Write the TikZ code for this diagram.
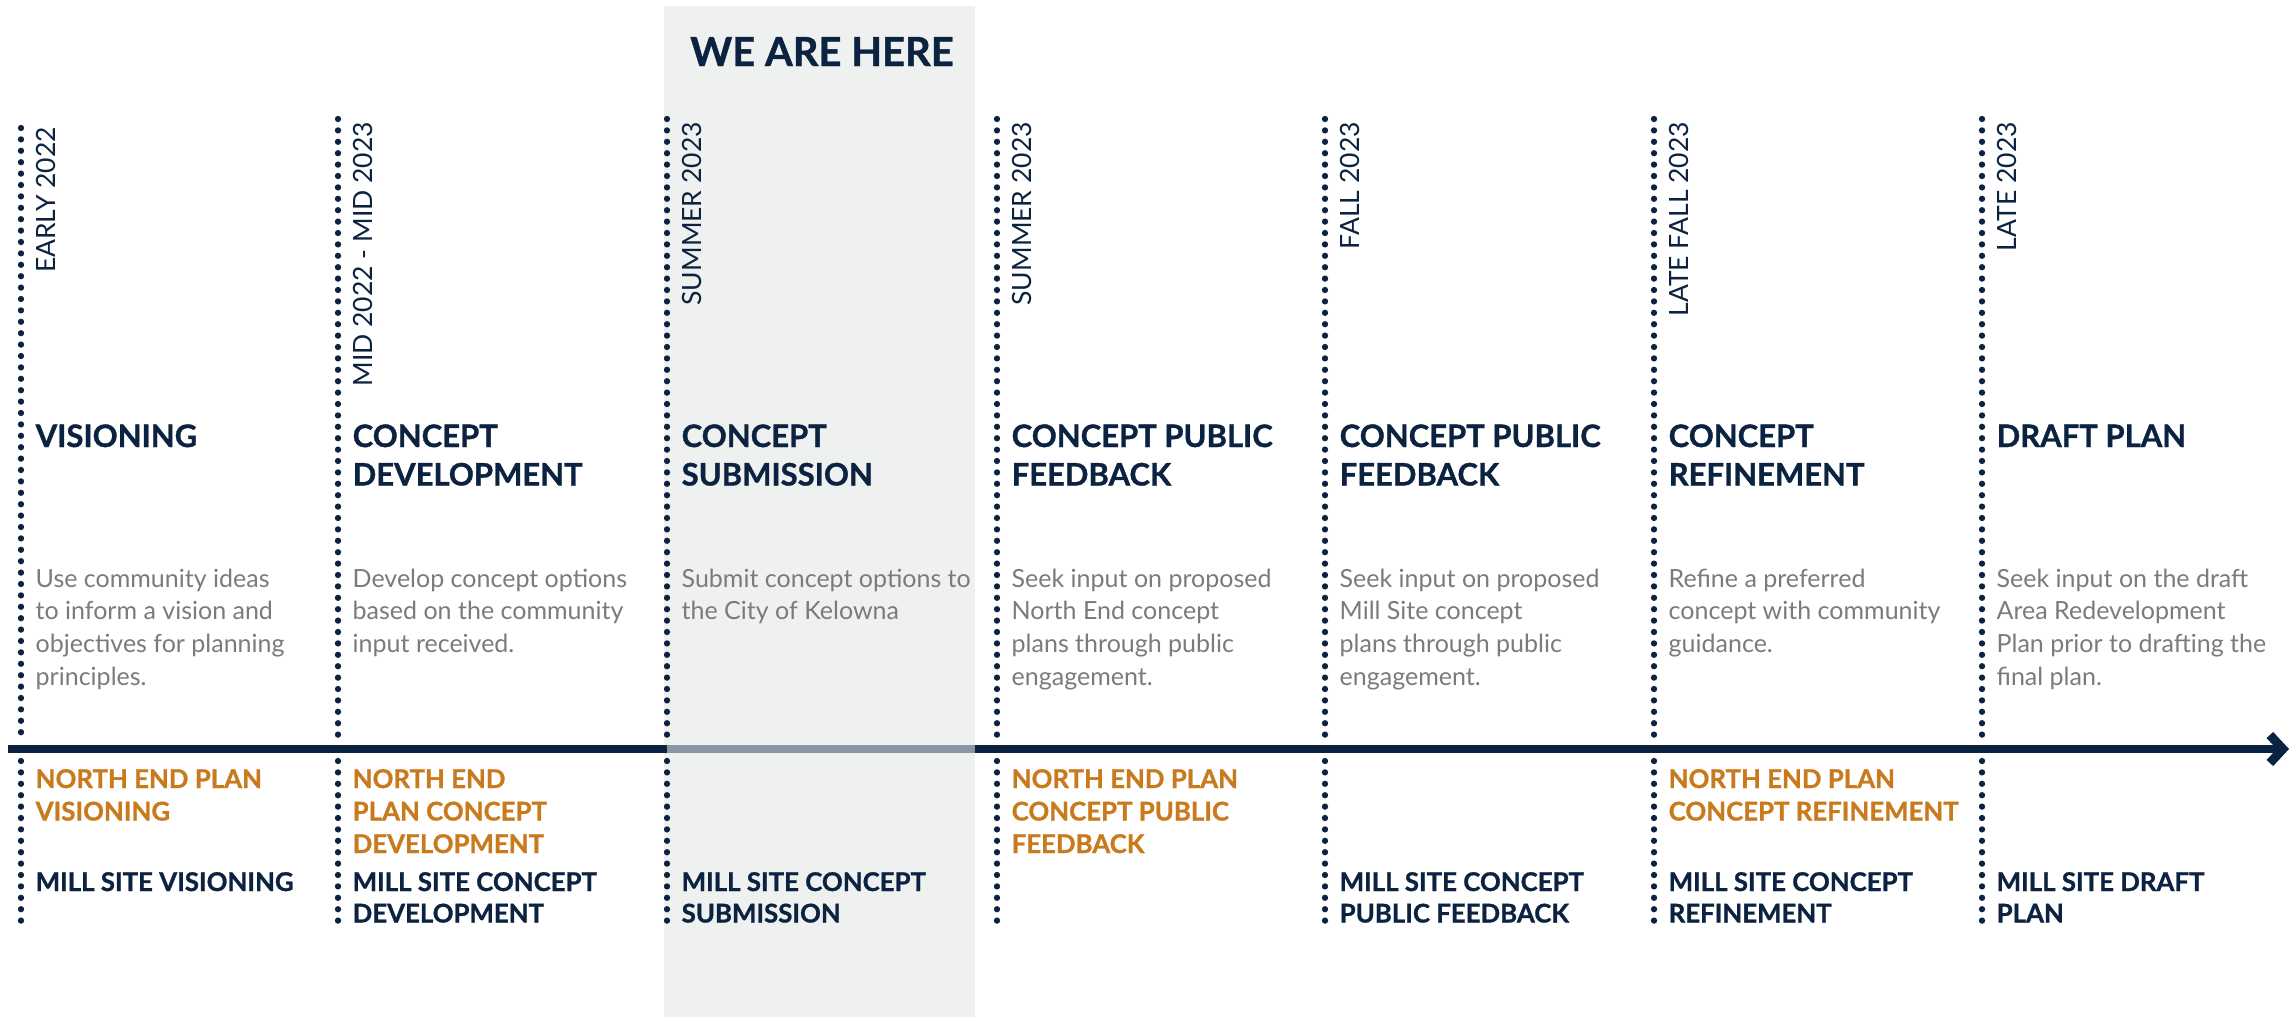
\documentclass[tikz,border=0pt]{standalone}
\usepackage{fontspec}
\setmainfont{Lato}[BoldFeatures={FakeBold=1.0}]
\usetikzlibrary{arrows.meta}
\definecolor{navy}{HTML}{0B2240}
\definecolor{orangelbl}{HTML}{C97A1D}
\definecolor{descgray}{HTML}{7B7B7B}
\definecolor{boxgray}{HTML}{EFF1F0}
\definecolor{axisgray}{HTML}{8C95A4}
\newcommand{\tlines}[1]{\vtop{\let\\\cr\halign{##\hfil\cr#1\crcr}}}
\begin{document}
\begin{tikzpicture}[x=1pt,y=-1pt,
  dots/.style={navy, line width=6.3pt, line cap=round, dash pattern=on 0pt off 11.4pt},
  datelbl/.style={rotate=90, anchor=base east, inner sep=0pt, text=navy,
    font=\fontsize{26.5}{30}\selectfont},
  headlbl/.style={anchor=base west, inner sep=0pt, text=navy,
    font=\bfseries\fontsize{31}{38.5}\selectfont},
  desclbl/.style={anchor=base west, inner sep=0pt, text=descgray,
    font=\fontsize{25}{32.7}\selectfont},
  northlbl/.style={anchor=base west, inner sep=0pt, text=orangelbl,
    font=\bfseries\fontsize{25.8}{32.5}\selectfont},
  milllbl/.style={anchor=base west, inner sep=0pt, text=navy,
    font=\bfseries\fontsize{25.8}{31.5}\selectfont},
  herelbl/.style={anchor=base, inner sep=0pt, text=navy,
    font=\bfseries\fontsize{40}{44}\selectfont}
]
\useasboundingbox (0,0) rectangle (2295,1017);
\fill[white] (0,0) rectangle (2295,1017);
% highlight box
\fill[boxgray] (664,6) rectangle (975,1017);
\node[herelbl] (here) at (822,66) {WE ARE HERE};

% dotted column lines
\foreach \i/\x/\t in {1/21/128,2/338/119,3/667/119,4/997/119,5/1325/119,6/1654/119,7/1982/119}{
  \coordinate (top\i) at (\x,\t);
  \coordinate (upb\i) at (\x,739);
  \coordinate (lot\i) at (\x,761);
  \coordinate (bot\i) at (\x,924);
  \draw[dots] (top\i) -- (upb\i);
  \draw[dots] (lot\i) -- (bot\i);
}

% axis
\coordinate (axL) at (8,749);
\coordinate (axR) at (2289,749);
\coordinate (gL) at (667,749);
\coordinate (gR) at (975,749);
\draw[navy, line width=8.5pt, -{Straight Barb[length=13pt,width=28pt,line width=9pt]}] (axL) -- (axR);
\draw[axisgray, line width=8.5pt] (gL) -- (gR);

% dates
\node[datelbl] (d1) at (55,127) {EARLY 2022};
\node[datelbl] (d2) at (372,122) {MID 2022 - MID 2023};
\node[datelbl] (d3) at (701,122) {SUMMER 2023};
\node[datelbl] (d4) at (1031,122) {SUMMER 2023};
\node[datelbl] (d5) at (1359,122) {FALL 2023};
\node[datelbl] (d6) at (1688,122) {LATE FALL 2023};
\node[datelbl] (d7) at (2016,122) {LATE 2023};

% headings
\node[headlbl] (h1) at (35.5,447) {\tlines{VISIONING}};
\node[headlbl] (h2) at (352.5,447) {\tlines{CONCEPT\\DEVELOPMENT}};
\node[headlbl] (h3) at (681.5,447) {\tlines{CONCEPT\\SUBMISSION}};
\node[headlbl] (h4) at (1011.5,447) {\tlines{CONCEPT PUBLIC\\FEEDBACK}};
\node[headlbl] (h5) at (1339.5,447) {\tlines{CONCEPT PUBLIC\\FEEDBACK}};
\node[headlbl] (h6) at (1668.5,447) {\tlines{CONCEPT\\REFINEMENT}};
\node[headlbl] (h7) at (1996.5,447) {\tlines{DRAFT PLAN}};

% descriptions
\node[desclbl] (t1) at (35.5,587) {\tlines{Use community ideas\\to inform a vision and\\objectives for planning\\principles.}};
\node[desclbl] (t2) at (352.5,587) {\tlines{Develop concept options\\based on the community\\input received.}};
\node[desclbl] (t3) at (681.5,587) {\tlines{Submit concept options to\\the City of Kelowna}};
\node[desclbl] (t4) at (1011.5,587) {\tlines{Seek input on proposed\\North End concept\\plans through public\\engagement.}};
\node[desclbl] (t5) at (1339.5,587) {\tlines{Seek input on proposed\\Mill Site concept\\plans through public\\engagement.}};
\node[desclbl] (t6) at (1668.5,587) {\tlines{Refine a preferred\\concept with community\\guidance.}};
\node[desclbl] (t7) at (1996.5,587) {\tlines{Seek input on the draft\\Area Redevelopment\\Plan prior to drafting the\\final plan.}};

% north end plan
\node[northlbl] (n1) at (35.5,788) {\tlines{NORTH END PLAN\\VISIONING}};
\node[northlbl] (n2) at (352.5,788) {\tlines{NORTH END\\PLAN CONCEPT\\DEVELOPMENT}};
\node[northlbl] (n4) at (1011.5,788) {\tlines{NORTH END PLAN\\CONCEPT PUBLIC\\FEEDBACK}};
\node[northlbl] (n6) at (1668.5,788) {\tlines{NORTH END PLAN\\CONCEPT REFINEMENT}};

% mill site
\node[milllbl] (m1) at (35.5,891) {\tlines{MILL SITE VISIONING}};
\node[milllbl] (m2) at (352.5,891) {\tlines{MILL SITE CONCEPT\\DEVELOPMENT}};
\node[milllbl] (m3) at (681.5,891) {\tlines{MILL SITE CONCEPT\\SUBMISSION}};
\node[milllbl] (m5) at (1339.5,891) {\tlines{MILL SITE CONCEPT\\PUBLIC FEEDBACK}};
\node[milllbl] (m6) at (1668.5,891) {\tlines{MILL SITE CONCEPT\\REFINEMENT}};
\node[milllbl] (m7) at (1996.5,891) {\tlines{MILL SITE DRAFT\\PLAN}};
\end{tikzpicture}
\end{document}
